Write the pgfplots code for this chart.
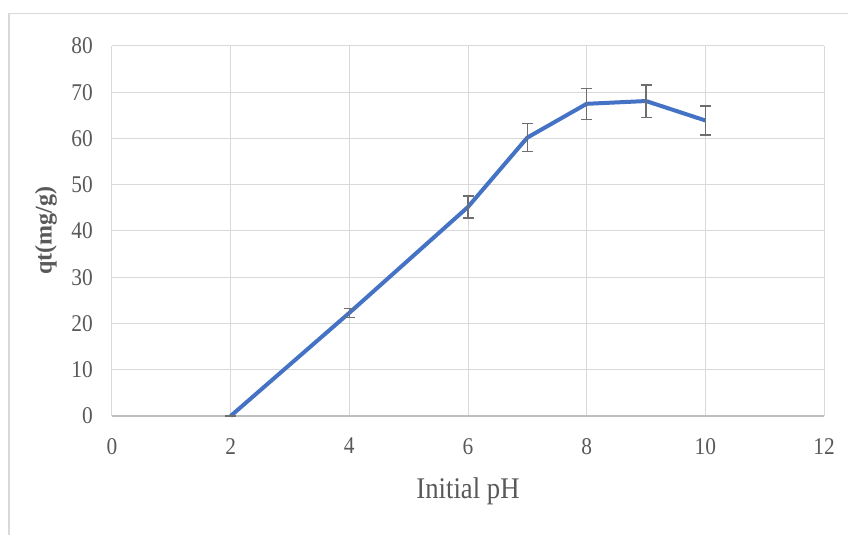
\documentclass[border=0pt]{standalone}
\usepackage{fontspec}
\setmainfont{Liberation Serif}[FakeStretch=0.89]
\newfontfamily\ylabfont{Liberation Serif}
\usepackage{pgfplots}
\pgfplotsset{compat=1.18}
\definecolor{linecol}{HTML}{4472C4}
\definecolor{gridcol}{HTML}{D9D9D9}
\definecolor{axcol}{HTML}{BFBFBF}
\definecolor{txtcol}{HTML}{595959}
\definecolor{errcol}{HTML}{6E6E6E}
\begin{document}
\begin{tikzpicture}
\begin{axis}[
  name=ax,
  at={(0,0)}, anchor=south west,
  scale only axis,
  width=712bp, height=370bp,
  xmin=0, xmax=12, ymin=0, ymax=80,
  xtick={0,2,...,12}, ytick={0,10,...,80},
  grid=major,
  grid style={color=gridcol, line width=1bp},
  axis x line*=bottom, axis y line*=left,
  x axis line style={color=axcol, line width=1.4bp, -},
  y axis line style={color=gridcol, line width=1bp, -},
  major tick length=0pt,
  /pgf/number format/assume math mode=true,
  ticklabel style={font=\fontsize{24bp}{28bp}\selectfont, text=txtcol, inner sep=0pt},
  yticklabel style={anchor=east, xshift=-19bp},
  xticklabel style={anchor=north, yshift=-22bp},
  xlabel={Initial pH},
  xlabel style={at={(axis description cs:0.5,-0.165)}, anchor=north, inner sep=0pt,
    font=\fontsize{30bp}{34bp}\selectfont, text=txtcol},
  ylabel={\ylabfont\bfseries qt(mg/g)},
  ylabel style={at={(axis description cs:-0.077,0.5)}, anchor=south, inner sep=0pt,
    font=\fontsize{24bp}{28bp}\selectfont, text=txtcol},
  clip=false,
]
\addplot[color=linecol, line width=4bp, line join=round,
  error bars/.cd, y dir=both, y explicit,
  error bar style={color=errcol, line width=1.4bp},
  error mark options={rotate=90, mark size=5.5bp, line width=1.4bp, color=errcol}]
  coordinates {
  (2,0) +- (0,0)
  (4,22.3) +- (0,1.0)
  (6,45.2) +- (0,2.4)
  (7,60.2) +- (0,3.0)
  (8,67.5) +- (0,3.35)
  (9,68.1) +- (0,3.5)
  (10,63.9) +- (0,3.15)
};
\end{axis}
\draw[color=gridcol, line width=1.5bp] (-103bp,-140bp) -- (-103bp,402.5bp) -- (760bp,402.5bp);
\pgfresetboundingbox
\useasboundingbox (-112bp,-119bp) rectangle (736bp,416bp);
\end{tikzpicture}
\end{document}
